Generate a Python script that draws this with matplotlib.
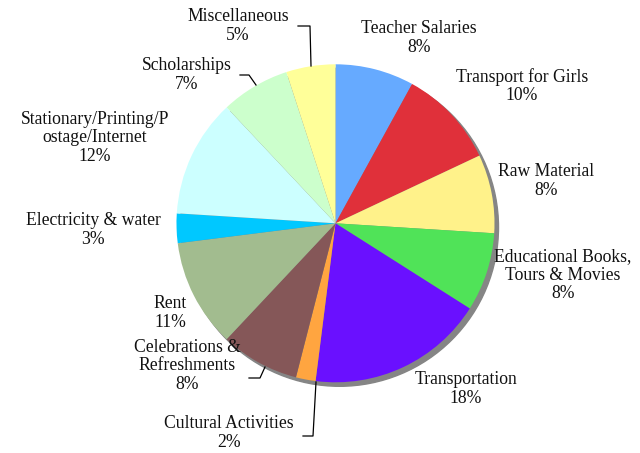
import matplotlib.pyplot as plt
from matplotlib.patches import Circle

# Expense shares (percent), clockwise from 12 o'clock
categories = ["Teacher Salaries", "Transport for Girls", "Raw Material",
              "Educational Books,\nTours & Movies", "Transportation",
              "Cultural Activities", "Celebrations &\nRefreshments", "Rent",
              "Electricity & water", "Stationary/Printing/P\nostage/Internet",
              "Scholarships", "Miscellaneous"]
values = [8, 10, 8, 8, 18, 2, 8, 11, 3, 12, 7, 5]
colors = ["#66aaff", "#e0303a", "#fff28a", "#50e358", "#6a10ff", "#ffa540",
          "#855758", "#a2bc8f", "#00c8ff", "#ccffff", "#ccffcc", "#ffff99"]

# label block centres in pixel space (x right, y down)
label_pos = [(419, 38), (522, 86), (546, 181), (563, 275), (466, 389),
             (229, 433), (187, 366), (170, 313), (93, 230), (95, 138),
             (187, 75), (238, 26)]

# leader lines for the small labels (pixel space): list of points
leaders = {
    11: [(311, 66), (310, 26), (298, 26)],
    10: [(256, 85), (249, 75), (240, 75)],
    6: [(265, 367), (260, 378), (249, 378)],
    5: [(316, 382), (313, 436), (303, 436)],
}

W, H = 640, 453
fig = plt.figure(figsize=(6.4, 4.53), dpi=100)
ax = fig.add_axes([0, 0, 1, 1])

cx, cy, r = 335.5, H - 223.3, 159

# shadow
ax.add_patch(Circle((cx + 4, cy - 4), r, color="#858585", zorder=0))

ax.pie(values, colors=colors, startangle=90, counterclock=False,
       center=(cx, cy), radius=r, frame=True,
       wedgeprops=dict(linewidth=0))
ax.set_xlim(0, W)
ax.set_ylim(0, H)
ax.set_aspect("equal")
ax.axis("off")

for i, (name, v) in enumerate(zip(categories, values)):
    x, y = label_pos[i]
    ax.text(x, H - y, f"{name}\n{v}%", ha="center", va="center",
            multialignment="center", fontsize=12.7, linespacing=1.1,
            family="Liberation Serif", color="#111111")

for i, pts in leaders.items():
    xs = [p[0] for p in pts]
    ys = [H - p[1] for p in pts]
    ax.plot(xs, ys, color="black", linewidth=0.9)

fig.savefig("out.png", dpi=100)
